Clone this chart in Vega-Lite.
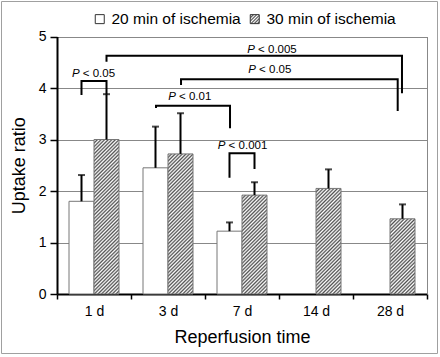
{
  "$schema": "https://vega.github.io/schema/vega-lite/v6.json",
  "width": 436,
  "height": 352,
  "autosize": {"type": "none"},
  "padding": {"left": 1, "top": 1, "right": 3, "bottom": 4},
  "background": "white",
  "config": {
    "view": {"stroke": "#a0a0a0", "strokeWidth": 1}
  },
  "params": [
    {"name": "hs", "value": [{"offset":0,"color":"#505050"},{"offset":0.01,"color":"#fff"},{"offset":0.02,"color":"#505050"},{"offset":0.03,"color":"#fff"},{"offset":0.04,"color":"#505050"},{"offset":0.05,"color":"#fff"},{"offset":0.06,"color":"#505050"},{"offset":0.07,"color":"#fff"},{"offset":0.08,"color":"#505050"},{"offset":0.09,"color":"#fff"},{"offset":0.1,"color":"#505050"},{"offset":0.11,"color":"#fff"},{"offset":0.12,"color":"#505050"},{"offset":0.13,"color":"#fff"},{"offset":0.14,"color":"#505050"},{"offset":0.15,"color":"#fff"},{"offset":0.16,"color":"#505050"},{"offset":0.17,"color":"#fff"},{"offset":0.18,"color":"#505050"},{"offset":0.19,"color":"#fff"},{"offset":0.2,"color":"#505050"},{"offset":0.21,"color":"#fff"},{"offset":0.22,"color":"#505050"},{"offset":0.23,"color":"#fff"},{"offset":0.24,"color":"#505050"},{"offset":0.25,"color":"#fff"},{"offset":0.26,"color":"#505050"},{"offset":0.27,"color":"#fff"},{"offset":0.28,"color":"#505050"},{"offset":0.29,"color":"#fff"},{"offset":0.3,"color":"#505050"},{"offset":0.31,"color":"#fff"},{"offset":0.32,"color":"#505050"},{"offset":0.33,"color":"#fff"},{"offset":0.34,"color":"#505050"},{"offset":0.35,"color":"#fff"},{"offset":0.36,"color":"#505050"},{"offset":0.37,"color":"#fff"},{"offset":0.38,"color":"#505050"},{"offset":0.39,"color":"#fff"},{"offset":0.4,"color":"#505050"},{"offset":0.41,"color":"#fff"},{"offset":0.42,"color":"#505050"},{"offset":0.43,"color":"#fff"},{"offset":0.44,"color":"#505050"},{"offset":0.45,"color":"#fff"},{"offset":0.46,"color":"#505050"},{"offset":0.47,"color":"#fff"},{"offset":0.48,"color":"#505050"},{"offset":0.49,"color":"#fff"},{"offset":0.5,"color":"#505050"},{"offset":0.51,"color":"#fff"},{"offset":0.52,"color":"#505050"},{"offset":0.53,"color":"#fff"},{"offset":0.54,"color":"#505050"},{"offset":0.55,"color":"#fff"},{"offset":0.56,"color":"#505050"},{"offset":0.57,"color":"#fff"},{"offset":0.58,"color":"#505050"},{"offset":0.59,"color":"#fff"},{"offset":0.6,"color":"#505050"},{"offset":0.61,"color":"#fff"},{"offset":0.62,"color":"#505050"},{"offset":0.63,"color":"#fff"},{"offset":0.64,"color":"#505050"},{"offset":0.65,"color":"#fff"},{"offset":0.66,"color":"#505050"},{"offset":0.67,"color":"#fff"},{"offset":0.68,"color":"#505050"},{"offset":0.69,"color":"#fff"},{"offset":0.7,"color":"#505050"},{"offset":0.71,"color":"#fff"},{"offset":0.72,"color":"#505050"},{"offset":0.73,"color":"#fff"},{"offset":0.74,"color":"#505050"},{"offset":0.75,"color":"#fff"},{"offset":0.76,"color":"#505050"},{"offset":0.77,"color":"#fff"},{"offset":0.78,"color":"#505050"},{"offset":0.79,"color":"#fff"},{"offset":0.8,"color":"#505050"},{"offset":0.81,"color":"#fff"},{"offset":0.82,"color":"#505050"},{"offset":0.83,"color":"#fff"},{"offset":0.84,"color":"#505050"},{"offset":0.85,"color":"#fff"},{"offset":0.86,"color":"#505050"},{"offset":0.87,"color":"#fff"},{"offset":0.88,"color":"#505050"},{"offset":0.89,"color":"#fff"},{"offset":0.9,"color":"#505050"},{"offset":0.91,"color":"#fff"},{"offset":0.92,"color":"#505050"},{"offset":0.93,"color":"#fff"},{"offset":0.94,"color":"#505050"},{"offset":0.95,"color":"#fff"},{"offset":0.96,"color":"#505050"},{"offset":0.97,"color":"#fff"},{"offset":0.98,"color":"#505050"},{"offset":0.99,"color":"#fff"},{"offset":1,"color":"#505050"}]}
  ],
  "datasets": {
    "main": [
      {"day": "1 d", "group": "20 min of ischemia", "value": 1.8, "upper": 2.31},
      {"day": "1 d", "group": "30 min of ischemia", "value": 3.0, "upper": 3.88},
      {"day": "3 d", "group": "20 min of ischemia", "value": 2.45, "upper": 3.25},
      {"day": "3 d", "group": "30 min of ischemia", "value": 2.72, "upper": 3.51},
      {"day": "7 d", "group": "20 min of ischemia", "value": 1.22, "upper": 1.39},
      {"day": "7 d", "group": "30 min of ischemia", "value": 1.92, "upper": 2.17},
      {"day": "14 d", "group": "30 min of ischemia", "value": 2.05, "upper": 2.42},
      {"day": "28 d", "group": "30 min of ischemia", "value": 1.46, "upper": 1.74}
    ],
    "brackets": [
      {"id": 1, "o": 1, "x": 0.331, "y": 3.864}, {"id": 1, "o": 2, "x": 0.331, "y": 4.136}, {"id": 1, "o": 3, "x": 0.669, "y": 4.136}, {"id": 1, "o": 4, "x": 0.669, "y": 3.88},
      {"id": 2, "o": 1, "x": 0.669, "y": 4.51}, {"id": 2, "o": 2, "x": 0.669, "y": 4.627}, {"id": 2, "o": 3, "x": 4.662, "y": 4.627}, {"id": 2, "o": 4, "x": 4.662, "y": 3.9},
      {"id": 3, "o": 1, "x": 1.676, "y": 4.058}, {"id": 3, "o": 2, "x": 1.676, "y": 4.169}, {"id": 3, "o": 3, "x": 4.604, "y": 4.169}, {"id": 3, "o": 4, "x": 4.604, "y": 3.553},
      {"id": 4, "o": 1, "x": 1.338, "y": 3.61}, {"id": 4, "o": 2, "x": 1.338, "y": 3.656}, {"id": 4, "o": 3, "x": 2.338, "y": 3.656}, {"id": 4, "o": 4, "x": 2.338, "y": 3.217},
      {"id": 5, "o": 1, "x": 2.331, "y": 2.258}, {"id": 5, "o": 2, "x": 2.331, "y": 2.732}, {"id": 5, "o": 3, "x": 2.669, "y": 2.732}, {"id": 5, "o": 4, "x": 2.669, "y": 2.427}
    ],
    "labels": [
      {"sx": 0.305, "by": 4.21, "t": "< 0.05"},
      {"sx": 2.674, "by": 4.689, "t": "< 0.005"},
      {"sx": 2.688, "by": 4.285, "t": "< 0.05"},
      {"sx": 1.606, "by": 3.767, "t": "< 0.01"},
      {"sx": 2.276, "by": 2.81, "t": "< 0.001"}
    ]
  },
  "resolve": {"scale": {"x": "independent"}, "axis": {"y": "independent"}},
  "layer": [
    {
      "data": {"name": "main"},
      "layer": [
        {
          "mark": {"type": "bar", "stroke": "#777", "strokeWidth": 1},
          "encoding": {
            "x": {"field": "day", "type": "nominal", "sort": ["1 d", "3 d", "7 d", "14 d", "28 d"],
              "scale": {"domain": ["1 d", "3 d", "7 d", "14 d", "28 d"], "range": [56, 426], "paddingInner": 0, "paddingOuter": 0},
              "axis": {"title": "Reperfusion time", "orient": "bottom", "offset": -59, "tickBand": "extent", "domainColor": "black", "domainWidth": 2, "tickColor": "black", "tickWidth": 1.5, "tickSize": 5, "labelFont": "Liberation Sans", "labelColor": "black", "labelFontSize": 14, "labelPadding": 5, "labelAngle": 0, "titleFont": "Liberation Sans", "titleColor": "black", "titleFontWeight": "normal", "titleFontSize": 18, "titlePadding": 10, "grid": false}},
            "xOffset": {"field": "group", "type": "nominal", "scale": {"domain": ["20 min of ischemia", "30 min of ischemia"], "paddingOuter": 0.48, "paddingInner": 0}},
            "y": {"field": "value", "type": "quantitative",
              "scale": {"domain": [0, 5], "range": [293, 35.5], "nice": false},
              "axis": {"title": "Uptake ratio", "orient": "left", "offset": -56, "values": [0, 0.5, 1, 1.5, 2, 2.5, 3, 3.5, 4, 4.5, 5],
                "labelExpr": "datum.value % 1 === 0 ? '' + datum.value : ''",
                "tickSize": {"condition": {"test": "datum.value % 1 !== 0", "value": 4}, "value": 7},
                "tickColor": "black", "tickWidth": 1.5, "domainColor": "black", "domainWidth": 2,
                "grid": true, "gridColor": "#888", "gridWidth": 1,
                "gridOpacity": {"condition": {"test": "datum.value % 1 !== 0 || datum.value === 0", "value": 0}, "value": 1},
                "labelFont": "Liberation Sans", "labelColor": "black", "labelFontSize": 14, "labelPadding": 4,
                "titleFont": "Liberation Sans", "titleColor": "black", "titleFontWeight": "normal", "titleFontSize": 18, "titlePadding": 10}},
            "fill": {"field": "group", "type": "nominal",
              "scale": {"domain": ["20 min of ischemia", "30 min of ischemia"], "range": ["white", {"expr": "{gradient: 'linear', x1: 0, y1: 0, x2: 9, y2: 9, stops: hs}"}]},
              "legend": {"title": null, "orient": "none", "legendX": 91, "legendY": 10, "direction": "horizontal", "symbolType": "square", "symbolSize": 81, "symbolStrokeColor": "#333", "symbolStrokeWidth": 1, "labelFont": "Liberation Sans", "labelColor": "black", "labelFontSize": 15.5, "labelOffset": 4, "columnPadding": 6, "padding": 0, "labelLimit": 300,
                "encode": {"symbols": {"update": {"stroke": {"value": "#333"}}}}},
              "condition": [
                {"test": "datum.group === '30 min of ischemia' && datum.day === '1 d'", "value": {"expr": "{gradient: 'linear', x1: 0, y1: 0, x2: 0.18371, y2: 1.13532, stops: hs}"}},
                {"test": "datum.group === '30 min of ischemia' && datum.day === '3 d'", "value": {"expr": "{gradient: 'linear', x1: 0, y1: 0, x2: 0.22225, y2: 1.24532, stops: hs}"}},
                {"test": "datum.group === '30 min of ischemia' && datum.day === '7 d'", "value": {"expr": "{gradient: 'linear', x1: 0, y1: 0, x2: 0.4326, y2: 1.71101, stops: hs}"}},
                {"test": "datum.group === '30 min of ischemia' && datum.day === '14 d'", "value": {"expr": "{gradient: 'linear', x1: 0, y1: 0, x2: 0.38229, y2: 1.61442, stops: hs}"}},
                {"test": "datum.group === '30 min of ischemia' && datum.day === '28 d'", "value": {"expr": "{gradient: 'linear', x1: 0, y1: 0, x2: 0.71672, y2: 2.15563, stops: hs}"}}
              ]}
          }
        },
        {
          "mark": {"type": "rule", "color": "black", "strokeWidth": 2},
          "encoding": {
            "x": {"field": "day", "type": "nominal", "sort": ["1 d", "3 d", "7 d", "14 d", "28 d"]},
            "xOffset": {"field": "group", "type": "nominal"},
            "y": {"field": "value", "type": "quantitative"},
            "y2": {"field": "upper"}
          }
        },
        {
          "mark": {"type": "tick", "color": "black", "thickness": 2, "size": 7},
          "encoding": {
            "x": {"field": "day", "type": "nominal", "sort": ["1 d", "3 d", "7 d", "14 d", "28 d"]},
            "xOffset": {"field": "group", "type": "nominal"},
            "y": {"field": "upper", "type": "quantitative"}
          }
        }
      ]
    },
    {
      "layer": [
        {
          "data": {"name": "brackets"},
          "mark": {"type": "line", "color": "black", "strokeWidth": 2, "strokeCap": "butt", "strokeJoin": "miter"},
          "encoding": {
            "x": {"field": "x", "type": "quantitative", "scale": {"domain": [0, 5], "range": [56, 426], "nice": false, "zero": false}, "axis": {"domain": false, "ticks": false, "labels": false, "grid": false, "title": null}},
            "y": {"field": "y", "type": "quantitative", "axis": {"orient": "right", "offset": -10, "labels": false, "ticks": false, "grid": false, "domainColor": "#888", "domainWidth": 1, "title": null}},
            "detail": {"field": "id", "type": "nominal"},
            "order": {"field": "o", "type": "quantitative"}
          }
        },
        {
          "data": {"name": "labels"},
          "mark": {"type": "text", "text": "P", "fontStyle": "italic", "fontSize": 11.5, "align": "right", "baseline": "alphabetic", "font": "Liberation Sans", "color": "black"},
          "encoding": {
            "x": {"field": "sx", "type": "quantitative"},
            "y": {"field": "by", "type": "quantitative"}
          }
        },
        {
          "data": {"name": "labels"},
          "mark": {"type": "text", "fontSize": 11.5, "align": "left", "baseline": "alphabetic", "dx": 3.2, "font": "Liberation Sans", "color": "black"},
          "encoding": {
            "x": {"field": "sx", "type": "quantitative"},
            "y": {"field": "by", "type": "quantitative"},
            "text": {"field": "t"}
          }
        }
      ]
    }
  ]
}
